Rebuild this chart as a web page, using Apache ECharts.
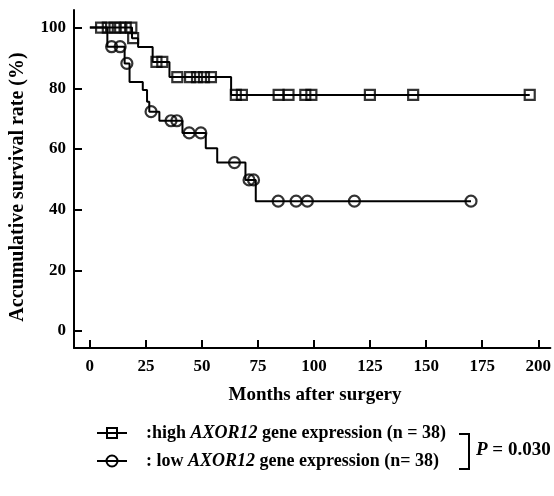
<!DOCTYPE html>
<html>
<head>
<meta charset="utf-8">
<script src="https://cdn.jsdelivr.net/npm/echarts@6/dist/echarts.min.js"></script>
<style>
  html, body { margin: 0; padding: 0; background: #fff; }
  #chart { width: 554px; height: 496px; }
</style>
</head>
<body>
<div id="chart"></div>
<script>
// Kaplan-Meier curves: survival level after each event time (months, %)
const highStepTimes  = [0, 18.8, 21.5, 28, 35.5, 63];
const highStepLevels = [100, 96.5, 93.6, 88.7, 83.7, 77.8];
const highCensorTimes = [5, 8, 11, 13.5, 16, 18.5, 19.3, 29.7, 32.3, 39, 44.7, 47.8, 50.9, 54,
                         65.1, 67.8, 84.2, 88.6, 96.1, 98.8, 124.9, 144.2, 196.2];

const lowStepTimes  = [0, 7.8, 15.5, 17.7, 23.6, 25.5, 26.5, 31, 41.3, 51.7, 56.8, 69.4, 74];
const lowStepLevels = [100, 93.7, 88.2, 82.1, 79.4, 75.6, 72.3, 69.3, 65.3, 60.2, 55.5, 49.8, 42.8];
const lowCensorTimes = [9.7, 13.5, 16.5, 27.3, 36.2, 38.8, 44.3, 49.5, 64.5, 71, 73,
                        84, 92, 97, 118, 170];

const xTicks = [0, 25, 50, 75, 100, 125, 150, 175, 200];
const yTicks = [0, 20, 40, 60, 80, 100];

const SERIF = "'Liberation Serif', 'Times New Roman', serif";

// survival level in force at time t
function levelAt(times, levels, t) {
  let v = levels[0];
  for (let i = 0; i < times.length; i++) if (times[i] <= t) v = levels[i];
  return v;
}
function curve(times, levels, censors) {
  const pts = times.map((t, i) => [t, levels[i]]);
  const end = censors[censors.length - 1];
  pts.push([end, levelAt(times, levels, end)]);
  return pts;
}
function marks(times, levels, censors) {
  return censors.map(t => [t, levelAt(times, levels, t)]);
}

const chart = echarts.init(document.getElementById('chart'), null, { renderer: 'canvas' });

const axisText = { fontFamily: SERIF, fontWeight: 'bold', fontSize: 17, color: '#000' };
const legendRich = {
  n: { fontFamily: SERIF, fontWeight: 'bold', fontSize: 18, fill: '#000' },
  i: { fontFamily: SERIF, fontWeight: 'bold', fontStyle: 'italic', fontSize: 18, fill: '#000' }
};

chart.setOption({
  animation: false,
  backgroundColor: '#fff',
  grid: { left: 74, right: 0, top: 10, bottom: 148 },
  xAxis: {
    type: 'value', min: -7.08, max: 205.4,
    splitLine: { show: false },
    axisLine: { show: true, onZero: false, lineStyle: { color: '#000', width: 2 } },
    axisTick: { show: true, inside: true, length: 8, lineStyle: { color: '#000', width: 2 }, customValues: xTicks },
    axisLabel: Object.assign({ margin: 10, customValues: xTicks }, axisText)
  },
  yAxis: {
    type: 'value', min: -5.6, max: 105.8,
    splitLine: { show: false },
    axisLine: { show: true, onZero: false, lineStyle: { color: '#000', width: 2 } },
    axisTick: { show: true, inside: true, length: 8, lineStyle: { color: '#000', width: 2 }, customValues: yTicks },
    axisLabel: Object.assign({ margin: 8, customValues: yTicks }, axisText)
  },
  series: [
    {
      type: 'line', step: 'end', showSymbol: false, silent: true,
      data: curve(highStepTimes, highStepLevels, highCensorTimes),
      lineStyle: { color: '#000', width: 2 }
    },
    {
      type: 'line', step: 'end', showSymbol: false, silent: true,
      data: curve(lowStepTimes, lowStepLevels, lowCensorTimes),
      lineStyle: { color: '#000', width: 2 }
    },
    {
      type: 'scatter', symbol: 'rect', symbolSize: 10,
      data: marks(highStepTimes, highStepLevels, highCensorTimes),
      itemStyle: { color: 'rgba(0,0,0,0)', borderColor: '#000', borderWidth: 2.2 }
    },
    {
      type: 'scatter', symbol: 'circle', symbolSize: 11,
      data: marks(lowStepTimes, lowStepLevels, lowCensorTimes),
      itemStyle: { color: 'rgba(0,0,0,0)', borderColor: '#000', borderWidth: 2.2 }
    }
  ],
  graphic: [
    // axis titles
    {
      type: 'text', x: 18, y: 187, rotation: Math.PI / 2,
      style: { text: 'Accumulative survival rate (%)', fontFamily: SERIF, fontWeight: 'bold',
               fontSize: 20, fill: '#000', align: 'center', verticalAlign: 'middle' }
    },
    {
      type: 'text', x: 315, y: 395,
      style: { text: 'Months after surgery', fontFamily: SERIF, fontWeight: 'bold',
               fontSize: 19, fill: '#000', align: 'center', verticalAlign: 'middle' }
    },
    // legend symbols
    { type: 'line', shape: { x1: 97, y1: 433, x2: 127, y2: 433 }, style: { stroke: '#000', lineWidth: 2 } },
    { type: 'rect', shape: { x: 107, y: 428, width: 10, height: 10 }, style: { fill: 'none', stroke: '#000', lineWidth: 2 } },
    { type: 'line', shape: { x1: 97, y1: 461, x2: 127, y2: 461 }, style: { stroke: '#000', lineWidth: 2 } },
    { type: 'circle', shape: { cx: 112, cy: 461, r: 5.5 }, style: { fill: 'none', stroke: '#000', lineWidth: 2 } },
    // legend texts
    {
      type: 'text', x: 146, y: 433,
      style: {
        text: '{n|:high }{i|AXOR12}{n| gene expression (n = 38)}',
        verticalAlign: 'middle', fill: '#000', rich: legendRich
      }
    },
    {
      type: 'text', x: 146, y: 461,
      style: {
        text: '{n|: low }{i|AXOR12}{n| gene expression (n= 38)}',
        verticalAlign: 'middle', fill: '#000', rich: legendRich
      }
    },
    // bracket joining both groups
    {
      type: 'polyline',
      shape: { points: [[459, 434], [469, 434], [469, 469], [459, 469]] },
      style: { fill: 'none', stroke: '#000', lineWidth: 2 }
    },
    {
      type: 'text', x: 476, y: 450,
      style: {
        text: '{i|P}{n| = 0.030}',
        verticalAlign: 'middle', fill: '#000',
        rich: {
          n: { fontFamily: SERIF, fontWeight: 'bold', fontSize: 19, fill: '#000' },
          i: { fontFamily: SERIF, fontWeight: 'bold', fontStyle: 'italic', fontSize: 19, fill: '#000' }
        }
      }
    }
  ]
});
</script>
</body>
</html>
